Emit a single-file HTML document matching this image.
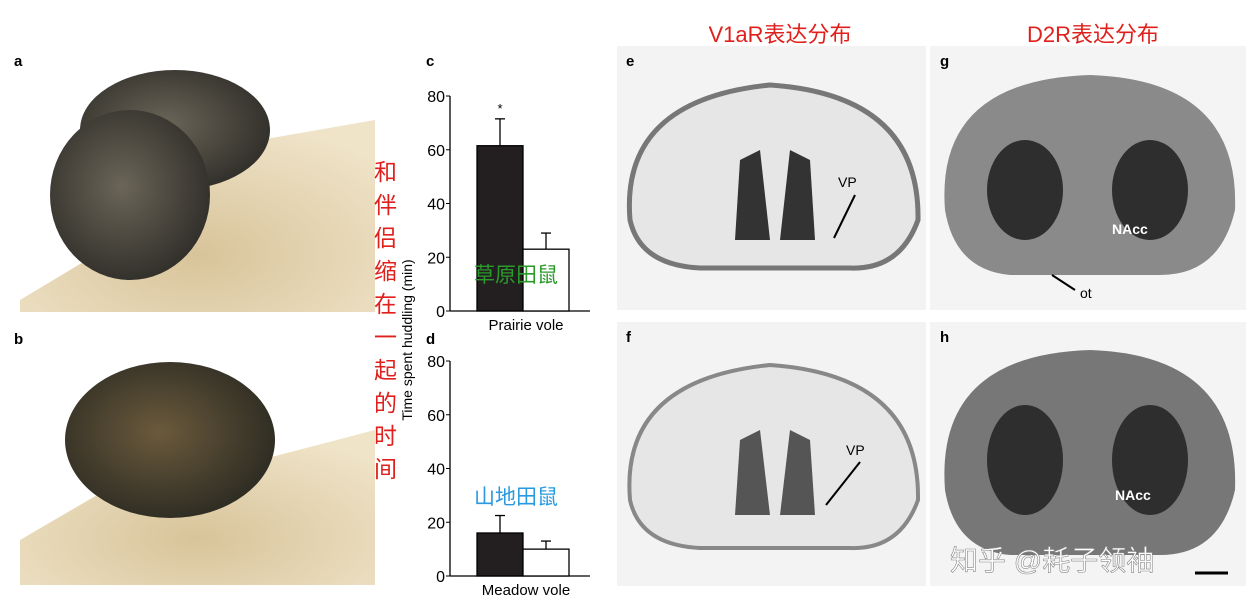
<!DOCTYPE html>
<html><head><meta charset="utf-8"><style>
body{margin:0;background:#fff;width:1251px;height:612px;overflow:hidden}
svg{display:block;font-family:"Liberation Sans","Noto Sans CJK SC",sans-serif}
</style></head><body>
<svg id="fig" width="1251" height="612">
<defs>
<radialGradient id="sand" cx="50%" cy="70%" r="70%"><stop offset="0" stop-color="#d8c49a"/><stop offset="1" stop-color="#efe3c8"/></radialGradient>
<radialGradient id="vole" cx="45%" cy="45%" r="60%"><stop offset="0" stop-color="#6a6558"/><stop offset="1" stop-color="#2f2d28"/></radialGradient>
<radialGradient id="vole2" cx="45%" cy="45%" r="60%"><stop offset="0" stop-color="#6b5a3c"/><stop offset="1" stop-color="#2b2a22"/></radialGradient>
</defs>
<g>
<text x="14" y="66" font-size="15" font-weight="bold">a</text>
<path d="M20 300 L120 240 L260 140 L375 120 L375 312 L20 312Z" fill="url(#sand)"/>
<ellipse cx="175" cy="130" rx="95" ry="60" fill="url(#vole)"/>
<ellipse cx="130" cy="195" rx="80" ry="85" fill="url(#vole)"/>
</g>
<g>
<text x="14" y="344" font-size="15" font-weight="bold">b</text>
<path d="M20 585 L20 540 L140 470 L260 460 L375 430 L375 585Z" fill="url(#sand)"/>
<ellipse cx="170" cy="440" rx="105" ry="78" fill="url(#vole2)"/>
</g>
<g fill="#e0201c" font-size="23">
<text x="374" y="180">和</text><text x="374" y="213">伴</text><text x="374" y="246">侣</text><text x="374" y="279">缩</text><text x="374" y="312">在</text><text x="374" y="345">一</text><text x="374" y="378">起</text><text x="374" y="411">的</text><text x="374" y="444">时</text><text x="374" y="477">间</text>
</g>
<text transform="translate(412,340) rotate(-90)" text-anchor="middle" font-size="14">Time spent huddling (min)</text>
<g id="chartC"></g>
<g id="chartD"></g>
<text x="426" y="66" font-size="15" font-weight="bold">c</text>
<text x="426" y="344" font-size="15" font-weight="bold">d</text>
<text x="474" y="282" font-size="21" fill="#2a9a2a">草原田鼠</text>
<text x="474" y="504" font-size="21" fill="#2a9ae0">山地田鼠</text>
<text x="780" y="42" font-size="22" fill="#e0201c" text-anchor="middle">V1aR表达分布</text>
<text x="1093" y="42" font-size="22" fill="#e0201c" text-anchor="middle">D2R表达分布</text>
<g>
<rect x="617" y="46" width="309" height="264" fill="#f3f3f3"/>
<path d="M630 220 Q620 100 770 85 Q920 95 918 220 Q900 270 850 268 L700 268 Q640 265 630 220Z" fill="#e6e6e6" stroke="#777" stroke-width="5"/>
<path d="M740 160 L760 150 L770 240 L735 240Z M790 150 L810 160 L815 240 L780 240Z" fill="#333"/>
<text x="626" y="66" font-size="15" font-weight="bold">e</text><text x="838" y="187" font-size="14">VP</text>
<line x1="855" y1="195" x2="834" y2="238" stroke="#000" stroke-width="2"/>
</g>
<g>
<rect x="617" y="322" width="309" height="264" fill="#f3f3f3"/>
<path d="M630 500 Q620 380 770 365 Q920 375 918 500 Q900 550 850 548 L700 548 Q640 545 630 500Z" fill="#e6e6e6" stroke="#888" stroke-width="4"/>
<path d="M740 440 L760 430 L770 515 L735 515Z M790 430 L810 440 L815 515 L780 515Z" fill="#555"/>
<text x="626" y="342" font-size="15" font-weight="bold">f</text><text x="846" y="455" font-size="14">VP</text>
<line x1="860" y1="462" x2="826" y2="505" stroke="#000" stroke-width="2"/>
</g>
<g>
<rect x="930" y="46" width="316" height="264" fill="#f4f4f4"/>
<path d="M945 210 Q935 80 1090 75 Q1240 80 1235 210 Q1220 275 1160 275 L1010 275 Q955 270 945 210Z" fill="#8a8a8a"/>
<ellipse cx="1025" cy="190" rx="38" ry="50" fill="#2e2e2e"/><ellipse cx="1150" cy="190" rx="38" ry="50" fill="#2e2e2e"/>
<text x="940" y="66" font-size="15" font-weight="bold">g</text>
<text x="1112" y="234" font-size="14" fill="#fff" font-weight="bold">NAcc</text>
<text x="1080" y="298" font-size="14">ot</text>
<line x1="1075" y1="290" x2="1052" y2="275" stroke="#000" stroke-width="2"/>
</g>
<g>
<rect x="930" y="322" width="316" height="264" fill="#f4f4f4"/>
<path d="M945 490 Q935 355 1090 350 Q1240 355 1235 490 Q1220 555 1160 555 L1010 555 Q955 550 945 490Z" fill="#777"/>
<ellipse cx="1025" cy="460" rx="38" ry="55" fill="#2e2e2e"/><ellipse cx="1150" cy="460" rx="38" ry="55" fill="#2e2e2e"/>
<text x="940" y="342" font-size="15" font-weight="bold">h</text>
<text x="1115" y="500" font-size="14" fill="#fff" font-weight="bold">NAcc</text>
<line x1="1195" y1="573" x2="1228" y2="573" stroke="#000" stroke-width="3"/>
<text x="950" y="570" font-size="28" fill="#fff" stroke="#888" stroke-width="0.6">知乎 @耗子领袖</text>
</g>
</svg>
<script>
const ticks=[0,20,40,60,80];
const prairieValues=[61.5,23];
const prairieErrors=[10,6];
const meadowValues=[16,10];
const meadowErrors=[6.5,3];
const NS='http://www.w3.org/2000/svg';
function mk(g,t,a){const e=document.createElementNS(NS,t);for(const k in a)e.setAttribute(k,a[k]);g.appendChild(e);return e;}
function draw(id,top,vals,errs,xl,star){
 const g=document.getElementById(id);const ax=450,y0=top+215;
 const y=v=>y0-v/80*215;
 let e=mk(g,'line',{x1:ax,y1:y(80),x2:ax,y2:y0,stroke:'#000','stroke-width':1.3});
 
 
 e=mk(g,'line',{x1:ax,y1:y0,x2:590,y2:y0,stroke:'#000','stroke-width':1.3});
 
 
 ticks.forEach(t=>{
  mk(g,'line',{x1:ax-4,y1:y(t),x2:ax,y2:y(t),stroke:'#000'});
  e=mk(g,'text',{x:ax-5,y:y(t)+6,'text-anchor':'end','font-size':16});
  e.textContent=t;
  
  
 });
 vals.forEach((v,i)=>{
  const x=477+i*46;
  mk(g,'line',{x1:x+23,y1:y(v),x2:x+23,y2:y(v+errs[i]),stroke:'#000','stroke-width':1.3});
  mk(g,'line',{x1:x+18,y1:y(v+errs[i]),x2:x+28,y2:y(v+errs[i]),stroke:'#000','stroke-width':1.3});
  e=mk(g,'rect',{x:x,y:y(v),width:46,height:y0-y(v),fill:i?'#fff':'#231f20',stroke:'#000','stroke-width':1.3});
  
  
 });
 e=mk(g,'text',{x:526,y:y0+19,'text-anchor':'middle','font-size':15});e.textContent=xl;
 
 
 if(star){e=mk(g,'text',{x:500,y:y(vals[0]+errs[0])-6,'text-anchor':'middle','font-size':13});e.textContent='*';
 
 }
}
draw('chartC',96,prairieValues,prairieErrors,'Prairie vole',true);
draw('chartD',361,meadowValues,meadowErrors,'Meadow vole',false);
</script>
</body></html>
